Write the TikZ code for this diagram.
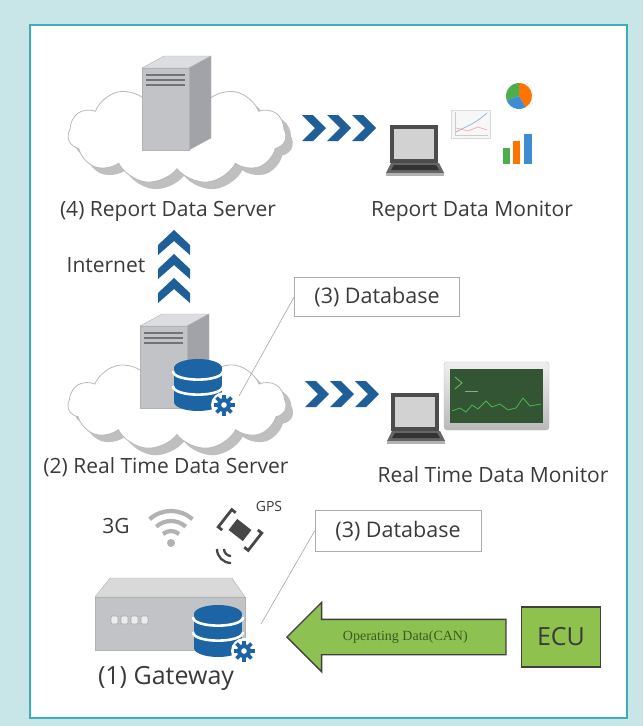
\documentclass[tikz,border=0pt]{standalone}
\usepackage{fontspec}
\setmainfont{Open Sans}
\newfontfamily\captionserif{Liberation Serif}
\usetikzlibrary{shapes.symbols,shapes.arrows}

\definecolor{panelbg}{HTML}{C8E6E8}
\definecolor{panelline}{HTML}{3AAFB5}
\definecolor{dbblue}{HTML}{1C64A4}
\definecolor{chevblue}{HTML}{1D5F96}
\definecolor{towerfront}{HTML}{C2C3C7}
\definecolor{towerside}{HTML}{A2A3A8}
\definecolor{towertop}{HTML}{DCDDE0}
\definecolor{txt}{HTML}{3A3A3A}
\definecolor{arrowgreen}{HTML}{8DC152}
\definecolor{ecugreen}{HTML}{8FC14F}
\definecolor{canlabel}{HTML}{3D5A1E}

\tikzset{
  lbl/.style={font=\fontsize{21}{24}\selectfont, text=txt, inner sep=0pt},
  dbbox/.style={draw=gray!65, line width=0.8pt, fill=white, minimum width=165pt,
    minimum height=39pt, font=\fontsize{21.5}{24}\selectfont, text=txt},
  cloudshape/.style={cloud, cloud puffs=11, cloud puff arc=115, aspect=2.3,
    minimum width=218pt, minimum height=100pt},
  % right-pointing chevron
  chevright/.pic={\fill[chevblue] (0,-13) -- (11,-13) -- (24,0) -- (11,13) -- (0,13) -- (13,0) -- cycle;},
  % upward chevron
  chevup/.pic={\fill[chevblue] (-16,3) -- (0,-12) -- (16,3) -- (16,13) -- (0,-1) -- (-16,13) -- cycle;},
  % rack server tower, origin at top-left of the front face
  tower/.pic={
    \fill[towertop, draw=gray!60, line width=.4pt] (0,0) -- (22,-12) -- (69,-12) -- (47,0) -- cycle;
    \fill[towerside, draw=gray!60, line width=.4pt] (47,0) -- (69,-12) -- (69,70) -- (47,82) -- cycle;
    \fill[towerfront, draw=gray!60, line width=.4pt] (0,0) rectangle (47,82);
    \foreach \s in {7,12,17} \draw[black!55, line width=1.5pt] (4,\s) -- (43,\s);
  },
  % laptop, origin at top-left
  laptop/.pic={
    \fill[black!70] (4,0) rectangle (52,38);
    \fill[gray!35] (8,4) rectangle (48,34);
    \fill[black!60] (0,48) -- (5,38) -- (53,38) -- (58,48) -- cycle;
    \fill[black!80] (8,40) -- (50,40) -- (53,45) -- (5,45) -- cycle;
    \fill[gray!60] (0,48) rectangle (58,51);
  },
  % database stack with gear, origin at centre of the top cap
  dbicon/.pic={
    \fill[dbblue] (-24,0) rectangle (24,34);
    \fill[dbblue] (0,0) ellipse [x radius=24pt, y radius=9pt];
    \fill[dbblue] (0,34) ellipse [x radius=24pt, y radius=9pt];
    \foreach \k in {3,18}
      \draw[white, line width=2.6pt] (-25,\k) .. controls (-25,\k+11.5) and (25,\k+11.5) .. (25,\k);
    \fill[white] (26,37) circle [radius=13pt];
    \foreach \a in {0,45,...,315}
      \draw[dbblue, line width=3.8pt] (26,37) ++(\a:5.5pt) -- ++(\a:5pt);
    \fill[dbblue] (26,37) circle [radius=7pt];
    \fill[white] (26,37) circle [radius=2.8pt];
  },
}

\begin{document}
\begin{tikzpicture}[x=1pt, y=-1pt]
% panel
\fill[panelbg] (0,0) rectangle (643,726);
\draw[panelline, line width=1.2pt, fill=white] (30,25) rectangle (627,718);
\useasboundingbox (0,0) rectangle (643,726);

% ---------- (4) report data server ----------
\node[cloudshape, fill=gray!50] at (184,141) {};
\node[cloudshape, fill=white, draw=gray!55, line width=.8pt] (cloudR) at (177,134) {};
\pic at (142,68) {tower};
\node[lbl] (labR) at (168,211) {(4) Report Data Server};

\path (302,128) pic {chevright} (327,128) pic {chevright} (352,128) pic {chevright};

% report monitor
\pic at (386,125) {laptop};
\fill[gray!6, draw=gray!30, line width=.4pt] (451,110) rectangle (490,138);
\draw[gray!40] (455,112) -- (455,135) -- (488,135);
\draw[cyan!50!blue!40, line width=.8pt] (456,132) .. controls (466,126) and (472,126) .. (487,113);
\draw[red!40, line width=.6pt] (456,128) -- (468,131) -- (478,127) -- (487,130);
\fill[green!55!black!70] (519,96) -- ++(90:13pt) arc[start angle=90, end angle=200, radius=13pt] -- cycle;
\fill[orange!90!red] (519,96) -- ++(-60:13pt) arc[start angle=-60, end angle=90, radius=13pt] -- cycle;
\fill[cyan!60!blue!80] (519,96) -- ++(200:13pt) arc[start angle=200, end angle=300, radius=13pt] -- cycle;
\fill[green!55!black!70] (503,148) rectangle (510,164);
\fill[orange!90!red] (513,141) rectangle (520,164);
\fill[cyan!60!blue!80] (524,134) rectangle (532,164);
\node[lbl] (labRM) at (472,211) {Report Data Monitor};

% internet link
\path (174,242) pic {chevup} (174,266) pic {chevup} (174,290) pic {chevup};
\node[lbl] (labNet) at (106,265) {Internet};

% ---------- (2) real time data server ----------
\node[dbbox] (dbA) at (377,297) {(3) Database};
\node[cloudshape, fill=gray!50, minimum height=92pt] at (184,411) {};
\node[cloudshape, fill=white, draw=gray!55, line width=.8pt, minimum height=92pt] (cloudT) at (177,404) {};
\pic at (140,326) {tower};
\pic at (198,368) {dbicon};
\coordinate (dbAtip) at (239,396);
\draw[gray!70, line width=.6pt] (dbA.west) -- (dbAtip);
\node[lbl] (labT) at (166,467) {(2) Real Time Data Server};

\path (305,394) pic {chevright} (330,394) pic {chevright} (355,394) pic {chevright};

% real time monitor
\shade[top color=gray!12, bottom color=gray!55, draw=gray!55, rounded corners=3pt] (444,362) rectangle (549,430);
\fill[black!78!green!60!gray] (450,369) rectangle (543,423);
\draw[green!55!black!60, line width=.9pt] (455,377) -- (462,383) -- (455,389);
\draw[green!40!black!50, line width=.6pt] (465,391) -- (478,391);
\draw[green!60!black!70, line width=.8pt] (452,411) -- (460,408) -- (466,412) -- (472,405) -- (478,409) -- (486,401) -- (492,407) -- (500,404) -- (508,410) -- (516,408) -- (523,398) -- (530,406) -- (541,404);
\pic at (387,393) {laptop};
\node[lbl] (labTM) at (493,475) {Real Time Data Monitor};

% ---------- (1) gateway ----------
\node[lbl] (lab3g) at (116,526) {3G};
\fill[gray!60] (171,543) circle [radius=4pt];
\foreach \r in {12,22,32}
  \draw[gray!60, line width=4.2pt] (171,543) ++(48:\r pt) arc[start angle=48, end angle=132, radius=\r pt];
\begin{scope}[shift={(240,530)}, rotate=-38]
  \fill[black!72] (-9,-7) rectangle (9,7);
  \draw[black!72, line width=2.8pt] (-14,-11) -- (-19,-11) -- (-19,11) -- (-14,11);
  \draw[black!72, line width=2.8pt] (14,-11) -- (19,-11) -- (19,11) -- (14,11);
\end{scope}
\draw[black!72, line width=2.3pt] (231,549) ++(180:7pt) arc[start angle=180, end angle=270, radius=7pt];
\draw[black!72, line width=2.3pt] (231,549) ++(180:14pt) arc[start angle=180, end angle=270, radius=14pt];
\node[font=\fontsize{14}{16}\selectfont, text=txt, inner sep=0pt] (labGPS) at (269,506) {GPS};

\node[dbbox, minimum width=166pt, minimum height=41pt] (dbB) at (398,531) {(3) Database};

\fill[gray!30, draw=gray!60, line width=.4pt] (95,597) -- (110,578) -- (232,578) -- (245,597) -- cycle;
\fill[towerfront, draw=gray!60, line width=.4pt] (95,597) rectangle (245,650);
\foreach \x in {111,121,131,141}
  \draw[gray!65, line width=.9pt, fill=gray!15, rounded corners=1pt] (\x,616) rectangle ++(7,8);
\pic at (218,614) {dbicon};
\coordinate (dbBtip) at (261,624);
\draw[gray!70, line width=.6pt] (dbB.west) -- (dbBtip);
\node[lbl, font=\fontsize{25}{28}\selectfont] (labG) at (166,678) {(1) Gateway};

% ECU and CAN data flow
\node[draw=black!75, fill=ecugreen, line width=1.4pt, minimum width=79pt, minimum height=60pt,
  font=\fontsize{25}{28}\selectfont, text=txt] (ecu) at (561,637) {ECU};
\node[single arrow, shape border rotate=180, draw=black!75, fill=arrowgreen, line width=1.4pt,
  minimum height=219pt, minimum width=69pt, single arrow head extend=17pt,
  inner xsep=2pt, inner ysep=11pt, text height=9pt, text depth=3pt,
  font=\captionserif\fontsize{14}{16}\selectfont, text=canlabel, anchor=tip] (can) at (286,637) {Operating Data(CAN)};
\end{tikzpicture}
\end{document}
